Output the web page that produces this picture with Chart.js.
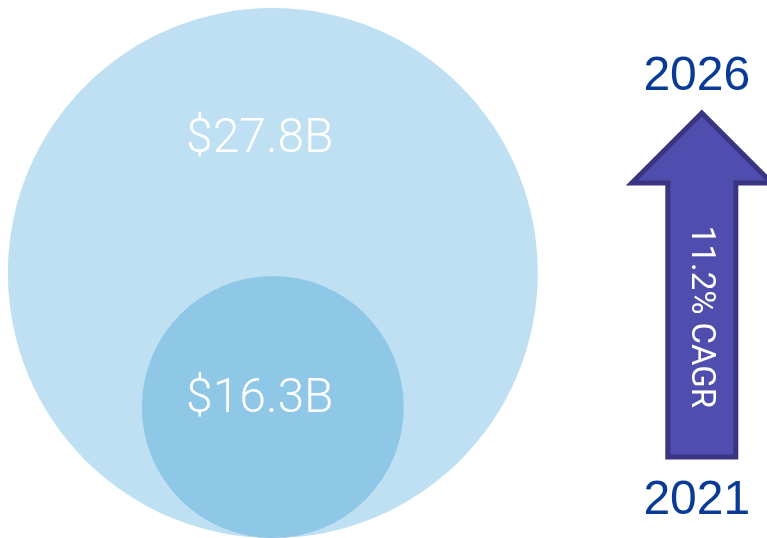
<!DOCTYPE html>
<html>
<head>
<meta charset="utf-8">
<script src="https://cdn.jsdelivr.net/npm/chart.js@4.4.1/dist/chart.umd.min.js"></script>
<style>
html, body { margin: 0; padding: 0; background: #ffffff; }
</style>
</head>
<body>
<canvas id="marketChart" width="767" height="538"></canvas>
<script>
// market size, $ billions
const years = ['2021', '2026'];
const marketSize = [16.3, 27.8];
const valueLabels = ['$16.3B', '$27.8B'];
const cagrLabel = '11.2% CAGR';

const circleColors = ['#8fc7e7', '#bee0f2'];
const labelOffsets = [{ dx: -13, dy: 5 }, { dx: -13, dy: -121 }];

// white value labels on the circles
const valueLabelPlugin = {
    id: 'valueLabels',
    afterDatasetsDraw(chart) {
        const ctx = chart.ctx;
        ctx.save();
        ctx.fillStyle = '#ffffff';
        ctx.font = '300 48px Roboto';
        ctx.textAlign = 'center';
        ctx.textBaseline = 'alphabetic';
        chart.data.datasets.forEach((ds, i) => {
            const pt = chart.getDatasetMeta(i).data[0];
            const off = labelOffsets[i];
            ctx.fillText(valueLabels[i], pt.x + off.dx, pt.y + off.dy);
        });
        ctx.restore();
    }
};

// growth arrow with the years at each end
const cagrArrowPlugin = {
    id: 'cagrArrow',
    afterDraw(chart) {
        const ctx = chart.ctx;
        const cx = chart.scales.x.getPixelForValue(1);
        const tipY = 113, headY = 183, baseY = 457;
        const headHalf = 70, shaftHalf = 34;

        ctx.save();
        ctx.beginPath();
        ctx.moveTo(cx, tipY);
        ctx.lineTo(cx + headHalf, headY);
        ctx.lineTo(cx + shaftHalf, headY);
        ctx.lineTo(cx + shaftHalf, baseY);
        ctx.lineTo(cx - shaftHalf, baseY);
        ctx.lineTo(cx - shaftHalf, headY);
        ctx.lineTo(cx - headHalf, headY);
        ctx.closePath();
        ctx.fillStyle = '#4f4dae';
        ctx.fill();
        ctx.lineWidth = 5;
        ctx.lineJoin = 'miter';
        ctx.strokeStyle = '#3a3581';
        ctx.stroke();

        ctx.translate(cx - 2, 317);
        ctx.rotate(Math.PI / 2);
        ctx.fillStyle = '#ffffff';
        ctx.font = '33px Roboto';
        ctx.textAlign = 'center';
        ctx.textBaseline = 'middle';
        ctx.fillText(cagrLabel, 0, 0);
        ctx.restore();

        ctx.save();
        ctx.fillStyle = '#0a3a97';
        ctx.font = '48px "Liberation Sans"';
        ctx.textAlign = 'center';
        ctx.textBaseline = 'alphabetic';
        ctx.fillText(years[1], cx - 5, 90);
        ctx.fillText(years[0], cx - 5, 514);
        ctx.restore();
    }
};

const ctx = document.getElementById('marketChart').getContext('2d');
const chart = new Chart(ctx, {
    type: 'bubble',
    data: {
        datasets: years.map((yr, i) => ({
            label: yr,
            data: [{ x: 0, y: marketSize[i] }],
            backgroundColor: circleColors[i],
            borderWidth: 0,
            clip: false,
            order: i
        }))
    },
    options: {
        responsive: false,
        animation: false,
        events: [],
        layout: { padding: 0, autoPadding: false },
        plugins: {
            legend: { display: false },
            tooltip: { enabled: false }
        },
        scales: {
            x: { type: 'linear', display: false, min: -0.636, max: 1.152 },
            y: { type: 'linear', display: false, min: 5.06, max: 51.23 }
        }
    },
    plugins: [valueLabelPlugin, cagrArrowPlugin]
});

// circles sit on the bottom edge: radius = distance from the value down to the axis minimum
const yScale = chart.scales.y;
chart.data.datasets.forEach(ds => {
    ds.data.forEach(p => {
        p.r = yScale.getPixelForValue(yScale.min) - yScale.getPixelForValue(p.y);
    });
});
chart.update();
</script>
</body>
</html>
